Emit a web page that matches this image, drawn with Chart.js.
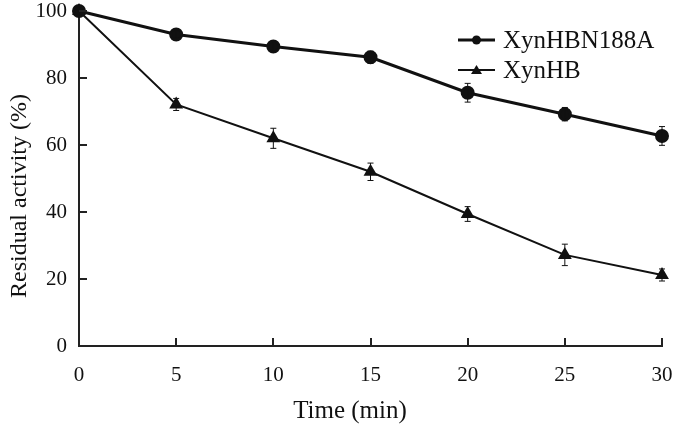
<!DOCTYPE html>
<html>
<head>
<meta charset="utf-8">
<script src="https://cdn.jsdelivr.net/npm/chart.js@4.4.0/dist/chart.umd.min.js"></script>
<style>
    html, body { margin: 0; padding: 0; background: #fff; }
    #wrap { width: 675px; height: 435px; position: relative; }
</style>
</head>
<body>
<div id="wrap"><canvas id="chart"></canvas></div>
<script>
// Data
const times = [0, 5, 10, 15, 20, 25, 30];
const mutantValues = [100, 93.0, 89.4, 86.2, 75.6, 69.2, 62.7];
const mutantErrors = [0.5, 1.0, 1.5, 1.8, 2.8, 2.0, 2.8];
const wildValues = [100, 72.1, 62.0, 52.0, 39.4, 27.2, 21.2];
const wildErrors = [0.5, 1.8, 3.0, 2.6, 2.2, 3.2, 1.8];
const xTicks = [0, 5, 10, 15, 20, 25, 30];
const yTicks = [0, 20, 40, 60, 80, 100];
const seriesNames = ['XynHBN188A', 'XynHB'];
const xTitle = 'Time (min)';
const yTitle = 'Residual activity (%)';

const FONT = '"Liberation Serif", "Times New Roman", serif';
const INK = '#111';

function toPoints(values) {
    return times.map((t, i) => ({ x: t, y: values[i] }));
}

// Error bars, inward ticks, axis titles and the legend are drawn here
const extrasPlugin = {
    id: 'extras',
    afterDatasetsDraw(chart) {
        const ctx = chart.ctx;
        const xs = chart.scales.x;
        const ys = chart.scales.y;
        const area = chart.chartArea;

        // error bars
        const errs = [mutantErrors, wildErrors];
        ctx.save();
        ctx.strokeStyle = INK;
        ctx.lineWidth = 1;
        chart.data.datasets.forEach((ds, d) => {
            ds.data.forEach((p, i) => {
                const e = errs[d][i];
                if (e < 1) return;
                const px = xs.getPixelForValue(p.x);
                const top = ys.getPixelForValue(p.y + e);
                const bot = ys.getPixelForValue(p.y - e);
                ctx.beginPath();
                ctx.moveTo(px, top); ctx.lineTo(px, bot);
                ctx.moveTo(px - 3, top); ctx.lineTo(px + 3, top);
                ctx.moveTo(px - 3, bot); ctx.lineTo(px + 3, bot);
                ctx.stroke();
            });
        });
        ctx.restore();

        // inward ticks
        ctx.save();
        ctx.strokeStyle = '#222';
        ctx.lineWidth = 2;
        ctx.beginPath();
        xTicks.forEach(v => {
            if (v === 0) return;
            const px = Math.round(xs.getPixelForValue(v));
            ctx.moveTo(px, area.bottom);
            ctx.lineTo(px, area.bottom - 8);
        });
        yTicks.forEach(v => {
            if (v === 0) return;
            const py = Math.round(ys.getPixelForValue(v));
            ctx.moveTo(area.left, py);
            ctx.lineTo(area.left + 8, py);
        });
        ctx.stroke();
        ctx.restore();

        // axis titles (sit a little off-centre in the original)
        ctx.save();
        ctx.fillStyle = INK;
        ctx.textAlign = 'center';
        ctx.textBaseline = 'middle';
        ctx.font = '25px ' + FONT;
        ctx.fillText(xTitle, area.left + 271, area.bottom + 65);
        ctx.translate(20, area.top + 185);
        ctx.rotate(-Math.PI / 2);
        ctx.font = '24px ' + FONT;
        ctx.fillText(yTitle, 0, 0);
        ctx.restore();

        // legend
        ctx.save();
        const lx = area.left + 379;
        const rows = [area.top + 29, area.top + 59];
        chart.data.datasets.forEach((ds, d) => {
            const y = rows[d];
            ctx.strokeStyle = INK;
            ctx.lineWidth = d === 0 ? 3 : 2;
            ctx.beginPath();
            ctx.moveTo(lx, y); ctx.lineTo(lx + 37, y);
            ctx.stroke();
            ctx.fillStyle = INK;
            ctx.beginPath();
            if (d === 0) {
                ctx.arc(lx + 18.5, y, 4.5, 0, Math.PI * 2);
            } else {
                ctx.moveTo(lx + 18.5, y - 5);
                ctx.lineTo(lx + 24, y + 4);
                ctx.lineTo(lx + 13, y + 4);
                ctx.closePath();
            }
            ctx.fill();
            ctx.font = '25px ' + FONT;
            ctx.textBaseline = 'middle';
            ctx.fillText(seriesNames[d], lx + 45, y + 1);
        });
        ctx.restore();
    }
};

new Chart(document.getElementById('chart'), {
    type: 'line',
    data: {
        datasets: [{
            label: seriesNames[0],
            data: toPoints(mutantValues),
            borderColor: INK,
            backgroundColor: INK,
            borderWidth: 3,
            pointStyle: 'circle',
            pointRadius: 5.5,
            clip: false,
            tension: 0
        }, {
            label: seriesNames[1],
            data: toPoints(wildValues),
            borderColor: INK,
            backgroundColor: INK,
            borderWidth: 2,
            pointStyle: 'triangle',
            pointRadius: 6,
            clip: false,
            tension: 0
        }]
    },
    options: {
        responsive: true,
        maintainAspectRatio: false,
        animation: false,
        layout: { padding: { top: 11, right: 13, left: 0, bottom: 0 } },
        plugins: {
            legend: { display: false },
            tooltip: { enabled: false }
        },
        scales: {
            x: {
                type: 'linear',
                min: 0,
                max: 30,
                afterBuildTicks: s => { s.ticks = xTicks.map(v => ({ value: v })); },
                grid: { display: false, drawTicks: false },
                border: { color: '#222', width: 2 },
                ticks: { color: INK, font: { family: FONT, size: 21 }, padding: 17 },
                afterFit: s => { s.height = 89; s.paddingLeft = 0; s.paddingRight = 0; }
            },
            y: {
                min: 0,
                max: 100,
                afterBuildTicks: s => { s.ticks = yTicks.map(v => ({ value: v })); },
                grid: { display: false, drawTicks: false },
                border: { color: '#222', width: 2 },
                ticks: { color: INK, font: { family: FONT, size: 21 }, padding: 12 },
                afterFit: s => { s.width = 79; s.paddingTop = 0; s.paddingBottom = 0; }
            }
        }
    },
    plugins: [extrasPlugin]
});
</script>
</body>
</html>
